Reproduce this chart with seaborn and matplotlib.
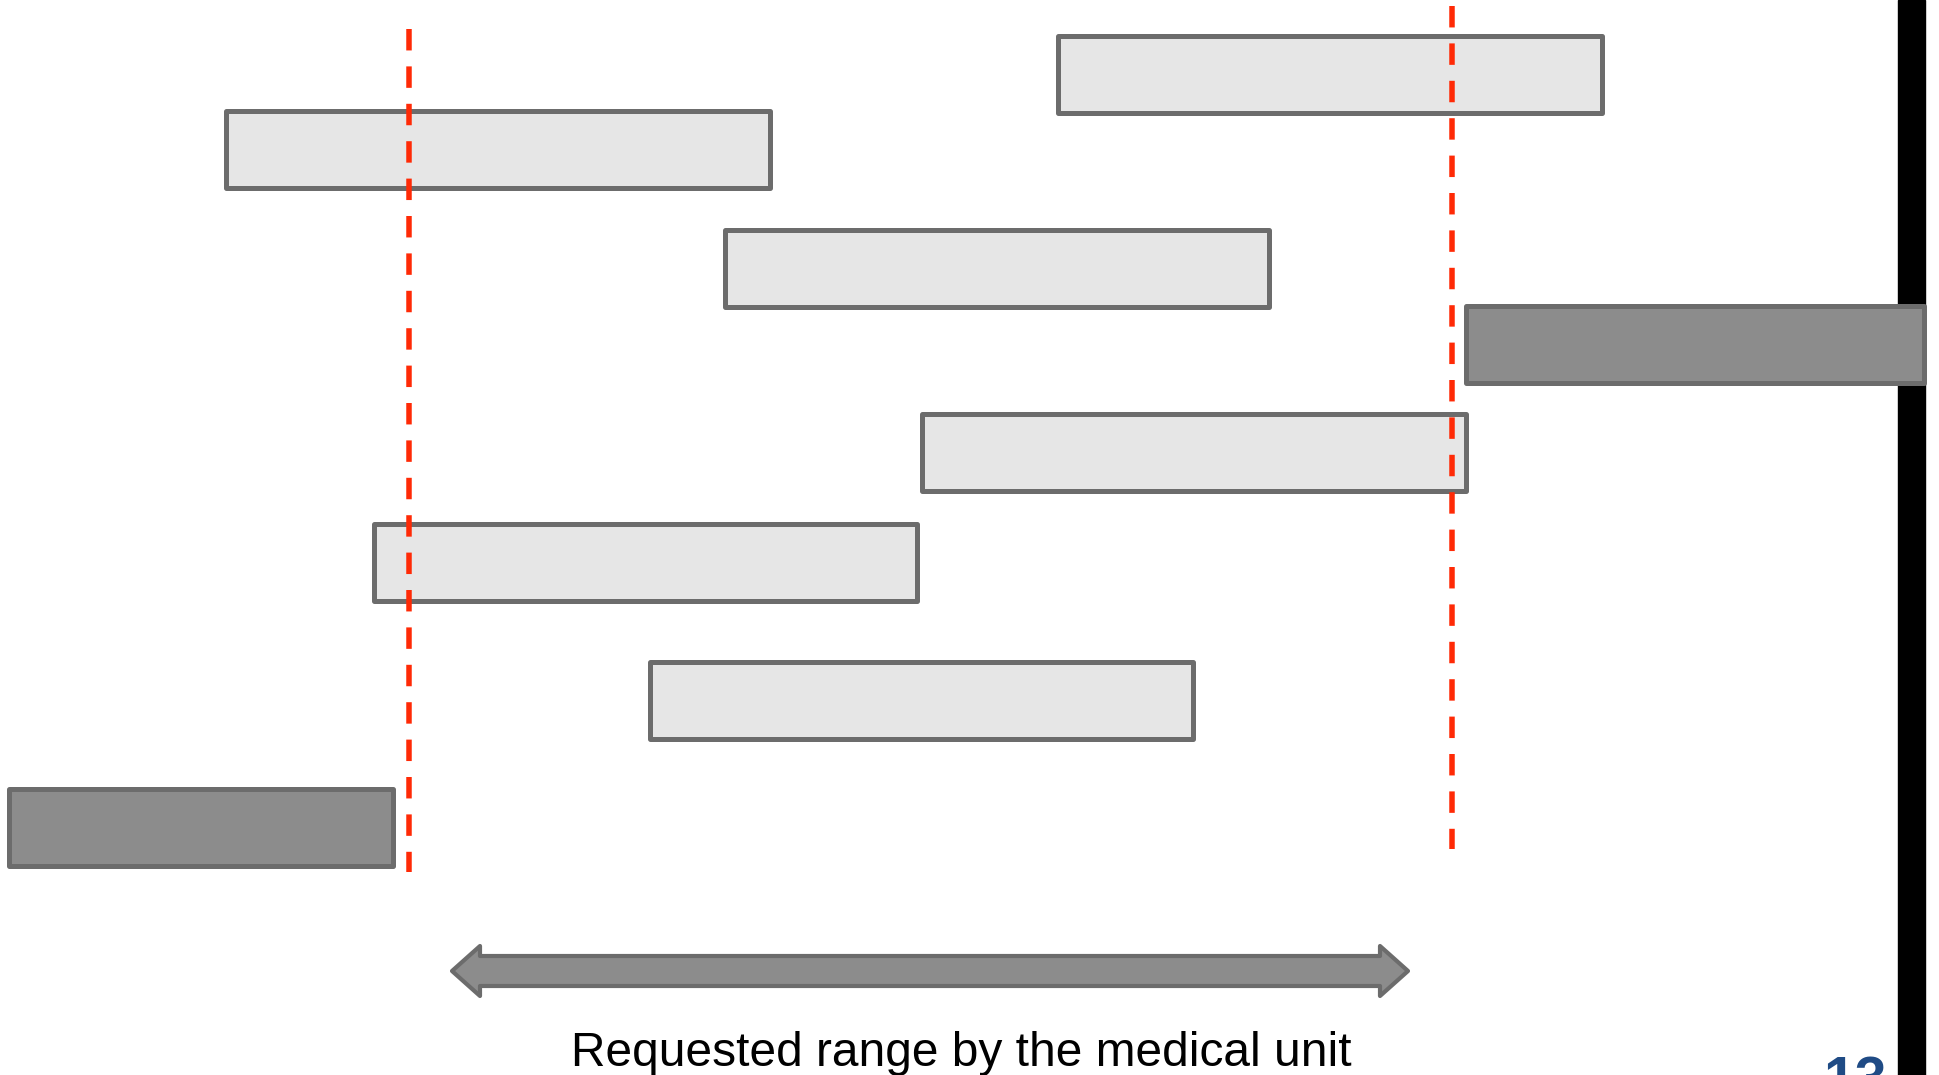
import matplotlib
matplotlib.use("Agg")
import matplotlib.pyplot as plt
import seaborn as sns
from matplotlib.patches import Polygon

sns.set_theme(style="white")
plt.rcParams['font.family'] = ['Liberation Sans', 'DejaVu Sans']

# Offered intervals (x = value scale, row = vertical slot)
starts = [105.8, 22.6, 72.5, 146.6, 92.2, 37.4, 65.0, 0.9]
ends = [160.2, 77.0, 126.9, 192.4, 146.6, 91.7, 119.3, 39.3]
rows = [7.4, 14.9, 26.8, 34.4, 45.2, 56.2, 70.0, 82.7]
outside = [False, False, False, True, False, False, False, True]

# Requested range limits
range_low, range_high = 40.9, 145.2
arrow_low, arrow_high = 45.2, 140.8
caption = "Requested range by the medical unit"
page_number = "13"

EDGE = "#6c6c6c"
LIGHT = "#e6e6e6"
DARK = "#8c8c8c"
RED = "#ff2a06"

fig = plt.figure(figsize=(19.4, 10.75), dpi=100)
ax = fig.add_axes([0, 0, 1, 1])
ax.set_xlim(0, 194)
ax.set_ylim(107.5, 0)
ax.axis("off")

# black side strip
ax.axvspan(189.8, 192.5, color="black", zorder=0)

widths = [e - s for s, e in zip(starts, ends)]
colors = [DARK if o else LIGHT for o in outside]
bars = ax.barh(rows, widths, left=starts, height=7.7, color=colors,
               edgecolor=EDGE, linewidth=3.6, zorder=2)
for b in bars:
    b.set_joinstyle("round")

# requested range boundaries
dash = (0, (3.9, 2.9))
ax.vlines(range_low, 2.93, 87.2, colors=RED, linewidth=3.96,
          linestyles=dash, zorder=3)
ax.vlines(range_high, 0.6, 84.9, colors=RED, linewidth=3.96,
          linestyles=dash, zorder=3)

# double-headed arrow spanning the requested range
yc, half_shaft, half_head, head_len = 97.1, 1.5, 2.5, 2.8
pts = [
    (arrow_low, yc),
    (arrow_low + head_len, yc - half_head),
    (arrow_low + head_len, yc - half_shaft),
    (arrow_high - head_len, yc - half_shaft),
    (arrow_high - head_len, yc - half_head),
    (arrow_high, yc),
    (arrow_high - head_len, yc + half_head),
    (arrow_high - head_len, yc + half_shaft),
    (arrow_low + head_len, yc + half_shaft),
    (arrow_low + head_len, yc + half_head),
]
ax.add_patch(Polygon(pts, closed=True, facecolor=DARK, edgecolor=EDGE,
                     linewidth=3.0, joinstyle="round", zorder=2))

ax.text((arrow_low + arrow_high) / 2 + 3.15, 106.6, caption, ha="center",
        va="baseline", fontsize=34.5, color="black")

fig.text(1823 / 1940, 1 - 1055 / 1075, page_number, ha="left", va="top",
         fontsize=41, fontweight="bold", color="#1f4b85")

fig.savefig("out.png", dpi=100)
